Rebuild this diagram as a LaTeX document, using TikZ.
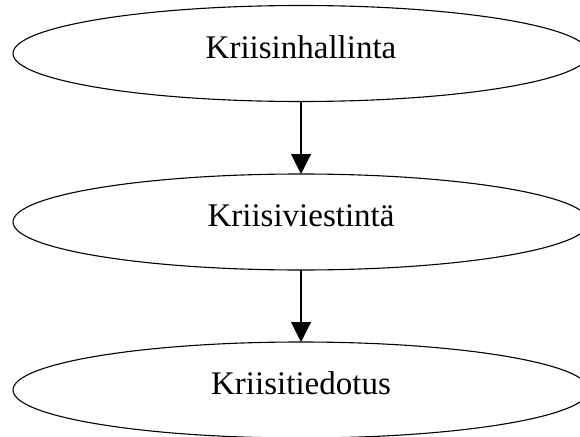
\documentclass[tikz,border=0pt]{standalone}
\usepackage{fontspec}
\setmainfont{Liberation Serif}
\usetikzlibrary{shapes.geometric,arrows.meta}
\begin{document}
\begin{tikzpicture}[x=1pt,y=-1pt,
  ell/.style={ellipse, draw, line width=1.1pt, minimum width=576pt, minimum height=96pt,
    inner sep=0pt, outer sep=0pt, font=\fontsize{33}{39}\selectfont,
    text height=22pt, text depth=13pt},
  conn/.style={line width=1.1pt, -{Triangle[width=20pt,length=20pt]}}]
\useasboundingbox (0,0) rectangle (580,436);
\node[ell] (a) at (301,53.5) {Kriisinhallinta};
\node[ell] (b) at (301,222) {Kriisiviestintä};
\node[ell] (c) at (301,390) {Kriisitiedotus};
\draw[conn] (a) -- (b);
\draw[conn] (b) -- (c);
\end{tikzpicture}
\end{document}
